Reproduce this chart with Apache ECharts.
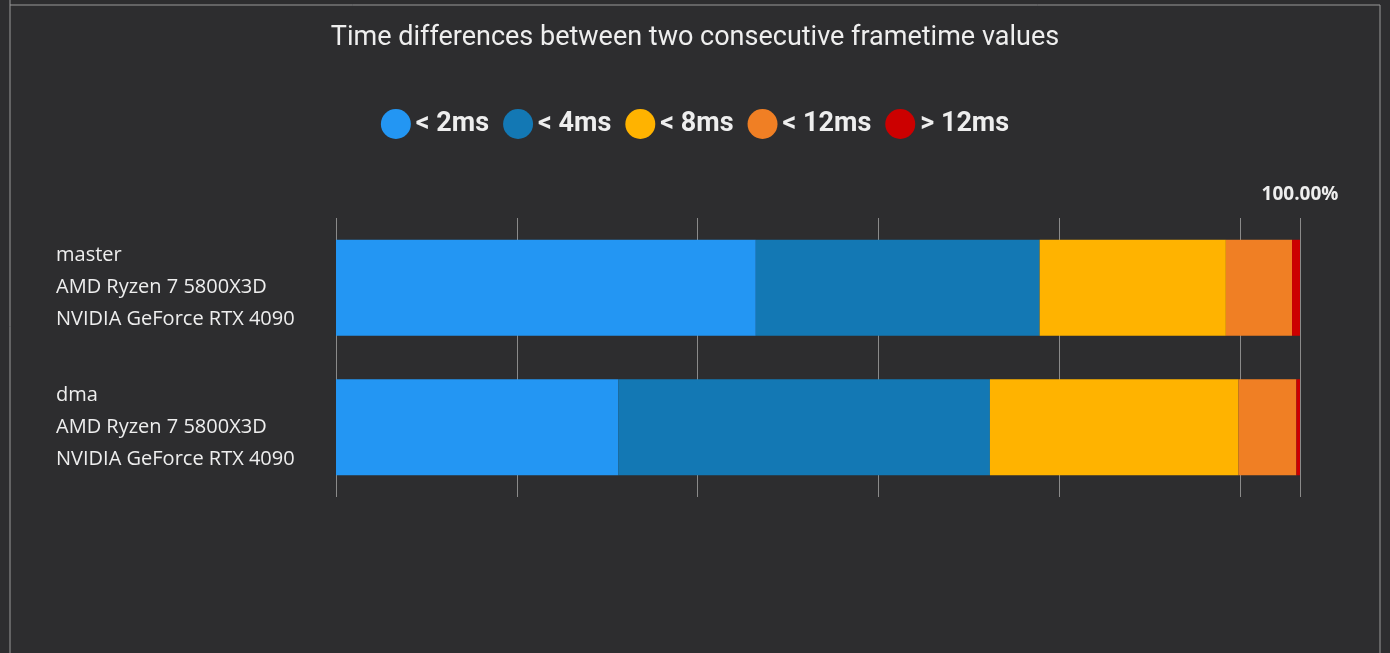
<!DOCTYPE html>
<html><head><meta charset="utf-8">
<script src="https://cdn.jsdelivr.net/npm/echarts@6/dist/echarts.min.js"></script>
<style>html,body{margin:0;background:#2d2d2f}#c{width:1390px;height:653px;}</style>
</head><body><div id="c"></div>
<script>
const categories = ['master\nAMD Ryzen 7 5800X3D\nNVIDIA GeForce RTX 4090', 'dma\nAMD Ryzen 7 5800X3D\nNVIDIA GeForce RTX 4090'];
const seriesNames = ['< 2ms', '< 4ms', '< 8ms', '< 12ms', '> 12ms'];
const colors = ['#2396f3', '#1378b4', '#ffb300', '#f07f24', '#cc0000'];
const lt2 = [69.9, 62.3];
const lt4 = [15.7, 20.55];
const lt8 = [10.3, 13.75];
const lt12 = [3.66, 3.2];
const gt12 = [0.44, 0.2];
const values = [lt2, lt4, lt8, lt12, gt12];

const chart = echarts.init(document.getElementById('c'));
chart.setOption({
    backgroundColor: '#2d2d2f',
    title: { text: 'Time differences between two consecutive frametime values', left: 'center', top: 20,
        textStyle: { color: '#eeeeee', fontSize: 27, fontWeight: 'normal', fontFamily: 'Roboto' } },
    legend: { top: 104, left: 'center', itemWidth: 30, itemHeight: 30, icon: 'circle', itemGap: 14,
        textStyle: { color: '#eeeeee', fontSize: 27, fontWeight: 'bold', fontFamily: 'Roboto' } },
    grid: { left: 336, right: 90, top: 218, bottom: 156 },
    xAxis: { type: 'value', position: 'top', min: 46.68, max: 100, interval: 10,
        axisLabel: { color: '#eeeeee', fontSize: 19, fontWeight: 'bold', fontFamily: 'Open Sans', margin: 14,
            formatter: v => (v % 10 === 0 ? v.toFixed(2) + '%' : '') , showMinLabel: false },
        axisLine: { show: false }, axisTick: { show: false },
        splitLine: { lineStyle: { color: '#8a8a8a', width: 1 } } },
    yAxis: { type: 'category', inverse: true, data: categories,
        axisLine: { show: false }, axisTick: { show: false },
        axisLabel: { color: '#eeeeee', fontSize: 20, fontFamily: 'Open Sans', lineHeight: 32, align: 'left', margin: 280 } },
    series: seriesNames.map((n, i) => ({
        name: n, type: 'bar', stack: 'all', barWidth: 96, data: values[i],
        itemStyle: { color: colors[i] }, emphasis: { disabled: true }
    })),
    graphic: [
        { type: 'line', shape: { x1: 10, y1: 0, x2: 10, y2: 653 }, style: { stroke: '#9a9a9a', lineWidth: 1 } },
        { type: 'line', shape: { x1: 10, y1: 5, x2: 1380, y2: 5 }, style: { stroke: '#9a9a9a', lineWidth: 1 } },
        { type: 'line', shape: { x1: 1380, y1: 5, x2: 1380, y2: 653 }, style: { stroke: '#9a9a9a', lineWidth: 1 } }
    ]
});
</script></body></html>
